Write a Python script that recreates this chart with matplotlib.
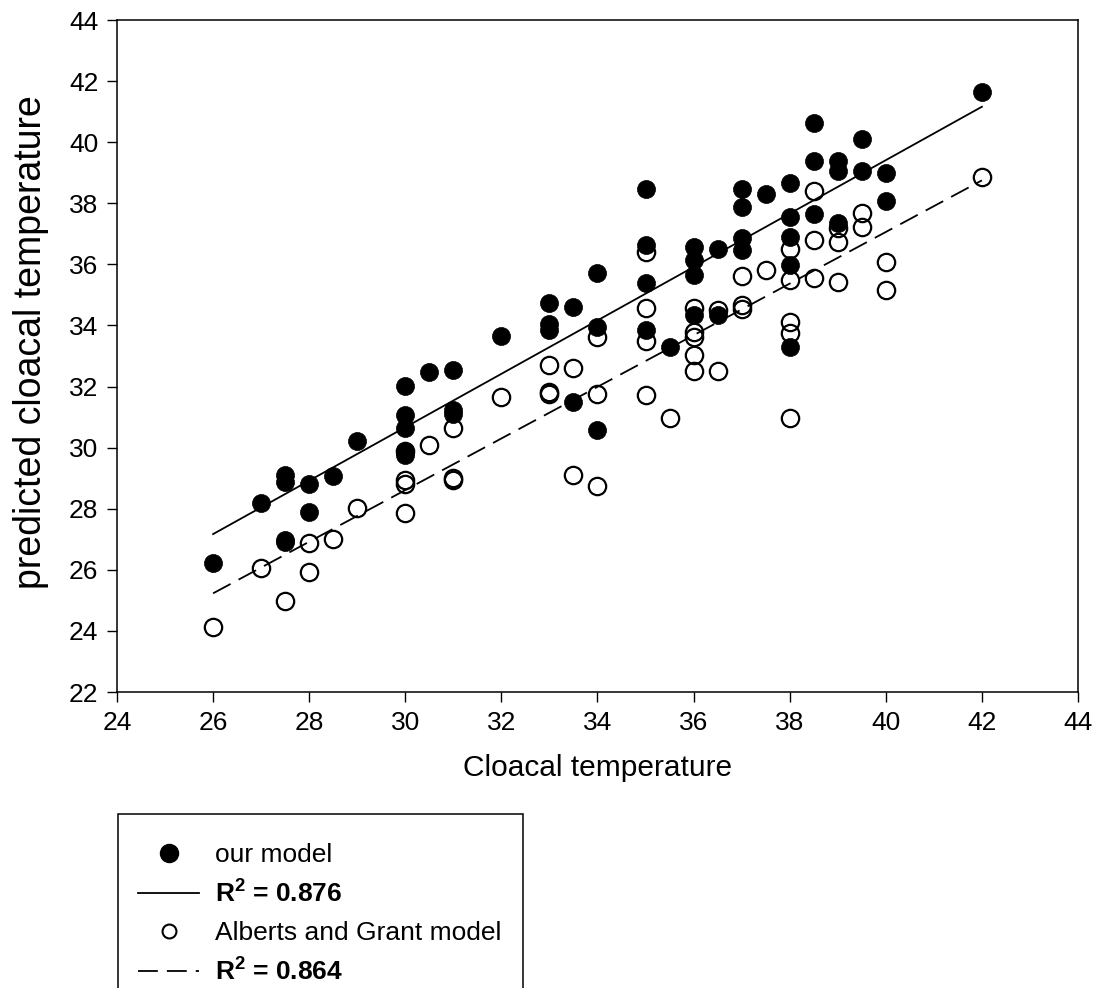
import numpy as np
import matplotlib
matplotlib.use("Agg")
import matplotlib.pyplot as plt
from matplotlib.lines import Line2D
from matplotlib.patches import Rectangle

plt.rcParams['font.family'] = ['Liberation Sans', 'DejaVu Sans']
plt.rcParams['mathtext.fontset'] = 'custom'
plt.rcParams['mathtext.rm'] = 'Liberation Sans'
plt.rcParams['mathtext.bf'] = 'Liberation Sans:bold'

# our model (filled circles)
our_x = [26, 27, 27.5, 27.5, 27.5, 27.5, 28, 28, 28.5, 29,
         30, 30, 30, 30, 30, 30.5, 31, 31, 31, 32,
         33, 33, 33, 33.5, 33.5, 34, 34, 34, 35, 35,
         35, 35, 35.5, 36, 36, 36, 36, 36.5, 36.5, 37,
         37, 37, 37, 37.5, 38, 38, 38, 38, 38, 38.5,
         38.5, 38.5, 39, 39, 39, 39.5, 39.5, 40, 40, 42]
our_y = [26.22, 28.18, 29.11, 28.89, 26.98, 26.90, 28.80, 27.90, 29.07, 30.23,
         32.02, 31.07, 30.65, 29.87, 29.76, 32.49, 32.54, 31.23, 31.10, 33.66,
         34.73, 34.05, 33.85, 34.62, 31.51, 35.71, 33.94, 30.58, 38.46, 36.63,
         35.40, 33.85, 33.29, 36.58, 36.14, 35.65, 34.34, 36.49, 34.34, 38.46,
         37.87, 36.85, 36.47, 38.30, 38.65, 37.56, 36.91, 35.98, 33.29, 40.62,
         39.39, 37.65, 39.39, 39.07, 37.36, 40.09, 39.07, 38.98, 38.09, 41.63]

# Alberts and Grant model (open circles)
ag_x = [26, 27, 27.5, 28, 28, 28.5, 29, 30, 30, 30,
        30, 30.5, 31, 31, 31, 32, 33, 33, 33, 33.5,
        33.5, 34, 34, 34, 35, 35, 35, 35, 35.5, 36,
        36, 36, 36, 36, 36.5, 36.5, 37, 37, 37, 37.5,
        38, 38, 38, 38, 38, 38.5, 38.5, 38.5, 39, 39,
        39, 39.5, 39.5, 40, 40, 42]
ag_y = [24.14, 26.07, 24.98, 26.89, 25.94, 27.00, 28.04, 29.90, 28.94, 28.80,
        27.85, 30.07, 30.65, 29.00, 28.94, 31.65, 32.71, 31.83, 31.75, 32.62,
        29.11, 33.61, 31.76, 28.75, 36.42, 34.56, 33.50, 31.73, 30.96, 34.56,
        33.80, 33.63, 33.03, 32.52, 34.51, 32.52, 35.62, 34.67, 34.53, 35.82,
        36.49, 35.49, 34.12, 33.74, 30.96, 38.41, 36.80, 35.54, 37.20, 36.74,
        35.43, 37.67, 37.23, 36.07, 35.16, 38.85]

# regression lines (end points)
fit_x = [26, 42]
our_fit = [27.17, 41.16]
ag_fit = [25.23, 38.75]

labels = ['our model', r'$\mathbf{R^2}$ = 0.876',
          'Alberts and Grant model', r'$\mathbf{R^2}$ = 0.864']

fig = plt.figure(figsize=(10.99, 9.88), dpi=100)
ax = fig.add_axes([117 / 1099, 1 - 692 / 988, (1078 - 117) / 1099, (692 - 20) / 988])

ax.plot(ag_x, ag_y, 'o', ms=12.5, mfc='none', mec='black', mew=1.6, zorder=2)
ax.plot(our_x, our_y, 'o', ms=13, mfc='black', mec='black', mew=0.5, zorder=3)
ax.plot(fit_x, our_fit, '-', color='black', lw=1.3, zorder=4)
ax.plot(fit_x, ag_fit, color='black', lw=1.3, dashes=(11, 5), zorder=4)

ax.set_xlim(24, 44)
ax.set_ylim(22, 44)
ax.set_xticks(np.arange(24, 45, 2))
ax.set_yticks(np.arange(22, 45, 2))
ax.tick_params(direction='out', length=7.5, width=1, labelsize=19, pad=6)
for s in ax.spines.values():
    s.set_linewidth(1.1)

ax.set_xlabel('Cloacal temperature', fontsize=21.5, labelpad=14)
ax.set_ylabel('predicted cloacal temperature', fontsize=27)
ax.yaxis.set_label_coords(-0.071, 0.52)

handles = [
    Line2D([], [], ls='none', marker='o', ms=13, mfc='black', mec='black'),
    Line2D([], [], ls='-', color='black', lw=1.3),
    Line2D([], [], ls='none', marker='o', ms=10, mfc='none', mec='black', mew=1.5),
    Line2D([], [], color='black', lw=1.3, dashes=(11, 5)),
]
leg = fig.legend(handles, labels, loc='upper left',
                 bbox_to_anchor=(125 / 1099, 1 - 830 / 988),
                 frameon=False, fontsize=19, handlelength=2.3,
                 handletextpad=0.6, labelspacing=0.5, borderpad=0)
leg.get_texts()[1].set_fontweight('bold')
leg.get_texts()[3].set_fontweight('bold')

box = Rectangle((118 / 1099, -0.05), (523 - 118) / 1099, 0.05 + 1 - 814 / 988,
                transform=fig.transFigure, fill=False, ec='black', lw=1.1)
fig.patches.append(box)

fig.savefig('out.png', dpi=100)
